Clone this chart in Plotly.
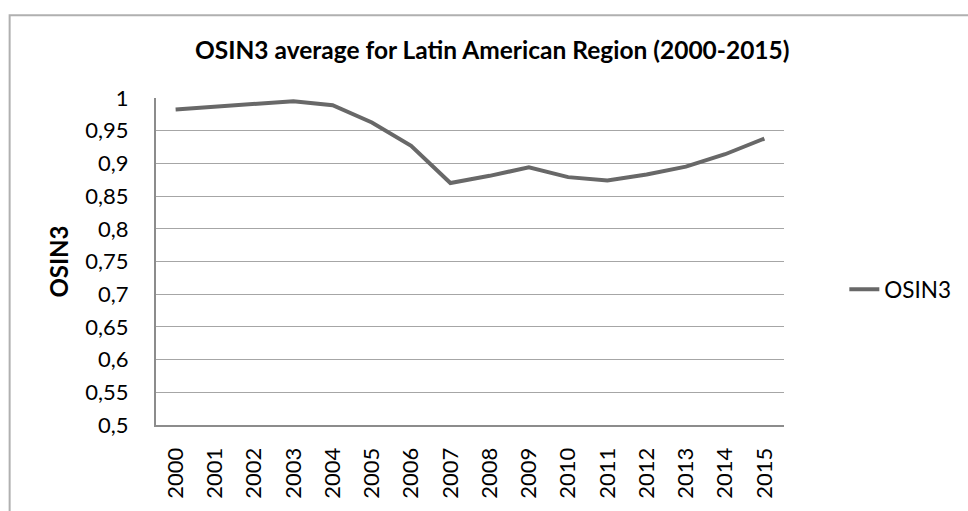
import plotly.graph_objects as go

years = [str(y) for y in range(2000, 2016)]
osin3 = [0.9825, 0.987, 0.991, 0.995, 0.989, 0.9625, 0.927, 0.870,
         0.881, 0.894, 0.879, 0.874, 0.883, 0.895, 0.914, 0.938]
y_tickvals = [0.5, 0.55, 0.6, 0.65, 0.7, 0.75, 0.8, 0.85, 0.9, 0.95, 1.0]
y_ticktext = ["0,5", "0,55", "0,6", "0,65", "0,7", "0,75", "0,8", "0,85", "0,9", "0,95", "1"]

FONT = "Lato"
W, H = 968, 511
L, R = 156, 791
T, B = 97.5, 431

fig = go.Figure()
fig.add_trace(go.Scatter(
    x=years, y=osin3, mode="lines", name="OSIN3",
    line=dict(color="#686868", width=4),
))

pw = R - L
ph = B - T
def px_x(p):
    return (p - L) / pw
def px_y(p):
    return (B - p) / ph

fig.update_layout(
    width=W, height=H,
    margin=dict(l=L, r=W - R, t=T, b=H - B, pad=0),
    paper_bgcolor="white", plot_bgcolor="white",
    font=dict(family=FONT, size=22, color="black"),
    title=dict(text="<b>OSIN3 average for Latin American Region (2000-2015)</b>",
               font=dict(family=FONT, size=24.5, color="black"),
               x=px_x(496), xref="paper", xanchor="center",
               y=1 - 50 / H, yref="container", yanchor="middle"),
    showlegend=True,
    legend=dict(x=px_x(852), y=px_y(293), xanchor="left", yanchor="middle",
                font=dict(family=FONT, size=22.5, color="black"),
                bgcolor="rgba(0,0,0,0)", borderwidth=0),
    xaxis=dict(type="category", range=[-0.5, 15.5], showgrid=False,
               showline=True, linecolor="#8c8c8c", linewidth=2,
               tickangle=-90, ticks="", ticklabelstandoff=12,
               tickfont=dict(family=FONT, size=22, color="black"),
               zeroline=False, fixedrange=True),
    yaxis=dict(range=[0.5, 1.0], tickvals=y_tickvals, ticktext=y_ticktext,
               showgrid=True, gridcolor="#a6a6a6", gridwidth=1.3,
               showline=True, linecolor="#8c8c8c", linewidth=2,
               ticks="", ticklabelstandoff=21,
               tickfont=dict(family=FONT, size=22, color="black"),
               zeroline=False,
               title=dict(text="<b>OSIN3</b>", font=dict(family=FONT, size=24, color="black"),
                          standoff=10),
               fixedrange=True),
    shapes=[dict(type="rect", xref="paper", yref="paper",
                 x0=px_x(8), x1=px_x(1000), y0=px_y(540), y1=px_y(13),
                 line=dict(color="#b0b0b0", width=2), fillcolor="rgba(0,0,0,0)",
                 layer="below")],
)

fig.write_html("out.html", config={"displayModeBar": False},
               post_script="document.body.style.margin='0';document.body.style.overflow='hidden';")
